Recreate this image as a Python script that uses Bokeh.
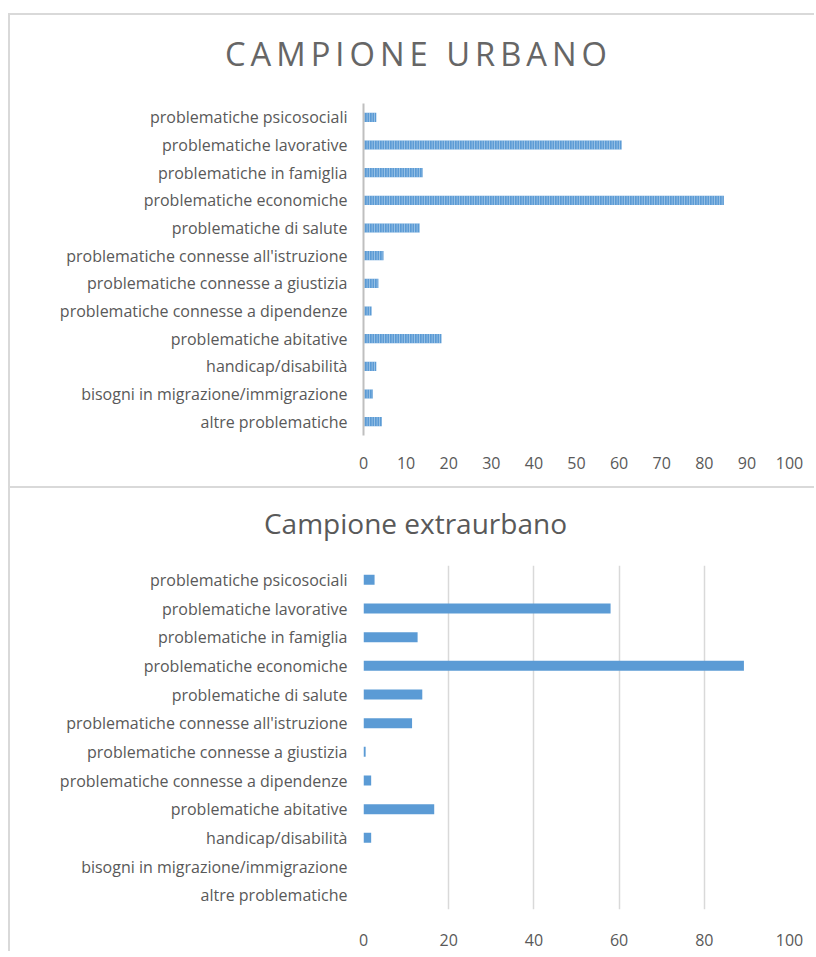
from bokeh.plotting import figure
from bokeh.models import FactorRange, Range1d, FixedTicker, Spacer, Div
from bokeh.layouts import column, row
from bokeh.embed import file_html
from bokeh.resources import INLINE

categories = [
    "problematiche psicosociali",
    "problematiche lavorative",
    "problematiche in famiglia",
    "problematiche economiche",
    "problematiche di salute",
    "problematiche connesse all'istruzione",
    "problematiche connesse a giustizia",
    "problematiche connesse a dipendenze",
    "problematiche abitative",
    "handicap/disabilità",
    "bisogni in migrazione/immigrazione",
    "altre problematiche",
]
urbano = [3.0, 60.6, 13.9, 84.6, 13.2, 4.7, 3.5, 1.9, 18.3, 3.0, 2.2, 4.3]
extraurbano = [2.6, 58.0, 12.7, 89.3, 13.8, 11.4, 0.5, 1.8, 16.6, 1.8, 0.0, 0.0]
title_urbano = "CAMPIONE URBANO"
title_extra = "Campione extraurbano"
ticks_urbano = list(range(0, 101, 10))
ticks_extra = list(range(0, 101, 20))

BLUE = "#5B9BD5"
TXT = "#595959"
FONT = "Open Sans"
BORDER = "2px solid #d9d9d9"
W = 806


def title_div(text, height, size, spacing, line_h, indent, color):
    return Div(text=text, width=W, height=height, margin=0,
               styles={"border-top": BORDER, "border-left": BORDER,
                       "font-family": FONT, "font-size": size,
                       "letter-spacing": spacing, "line-height": line_h,
                       "text-align": "center", "text-indent": indent,
                       "color": color, "white-space": "nowrap"})


def chart_fig(height, mb_left, mb_right, mb_top, mb_bottom):
    p = figure(
        width=W, height=height,
        y_range=FactorRange(*categories[::-1], range_padding=0),
        x_range=Range1d(0, 100),
        output_backend="svg", toolbar_location=None,
        min_border_left=mb_left, min_border_right=mb_right,
        min_border_top=mb_top, min_border_bottom=mb_bottom,
        styles={"border-left": BORDER},
    )
    p.outline_line_color = None
    p.ygrid.grid_line_color = None
    p.xaxis.axis_line_color = None
    for ax in (p.xaxis, p.yaxis):
        ax.major_tick_line_color = None
        ax.minor_tick_line_color = None
        ax.major_tick_out = 0
        ax.major_tick_in = 0
        ax.minor_tick_out = 0
        ax.major_label_text_font = FONT
        ax.major_label_text_color = TXT
    p.yaxis.major_label_text_font_size = "16px"
    p.xaxis.major_label_text_font_size = "16px"
    p.yaxis.major_label_standoff = 16
    return p


# Top panel: urban sample (hatched bars, no grid)
t1 = title_div(title_urbano, 80, "32.7px", "5px", "78px", "13px", "#666666")
p1 = chart_fig(393, 353, 27, 10, 51)
p1.xgrid.grid_line_color = None
p1.yaxis.axis_line_color = "#bfbfbf"
p1.yaxis.axis_line_width = 2
p1.xaxis.ticker = FixedTicker(ticks=ticks_urbano)
p1.xaxis.major_label_standoff = 21
p1.hbar(y=categories, right=urbano, left=0, height=0.33,
        fill_color=BLUE, line_color=None,
        hatch_pattern="vertical_line", hatch_color="white",
        hatch_alpha=0.45, hatch_scale=2.5, hatch_weight=1)

# Bottom panel: extra-urban sample (solid bars, vertical grid)
t2 = title_div(title_extra, 66, "28px", "0px", "71px", "7px", "#595959")
p2 = chart_fig(399, 353, 26, 13, 42)
p2.yaxis.axis_line_color = None
p2.xaxis.ticker = FixedTicker(ticks=ticks_extra)
p2.xgrid.grid_line_color = "#d9d9d9"
p2.xgrid.grid_line_width = 1.5
p2.xaxis.major_label_standoff = 24
p2.hbar(y=categories, right=extraurbano, left=0, height=0.35,
        fill_color=BLUE, line_color=None)

layout = row(Spacer(width=8),
             column(Spacer(height=13), t1, p1, t2, p2, spacing=0),
             spacing=0)
open("out.html", "w").write(file_html(layout, INLINE))
